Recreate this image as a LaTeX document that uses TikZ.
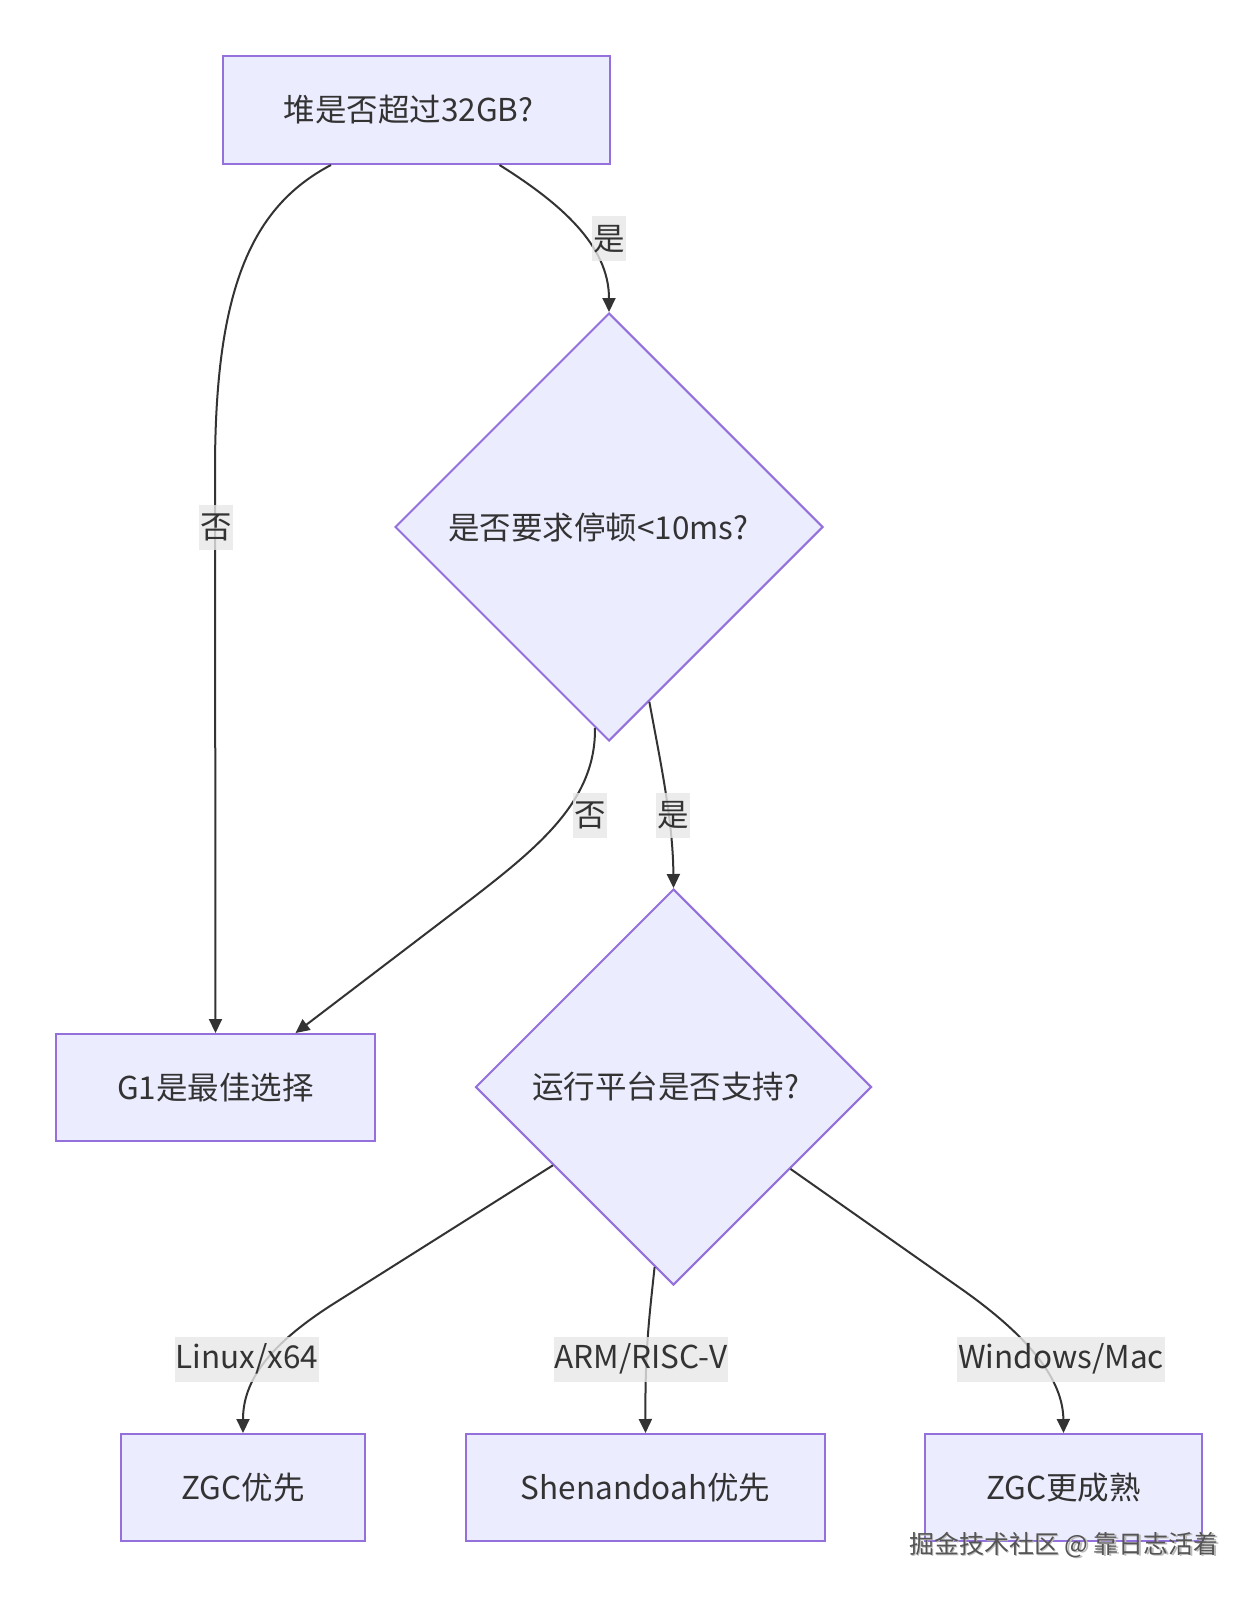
\documentclass[tikz,border=0pt]{standalone}
\usepackage{fontspec}
\setmainfont{Noto Sans CJK SC}
\usetikzlibrary{shapes.geometric,arrows.meta}
\definecolor{nodefill}{HTML}{ECECFF}
\definecolor{nodeline}{HTML}{9370DB}
\definecolor{edgecol}{HTML}{333333}
\definecolor{labelbg}{HTML}{E8E8E8}
\definecolor{txt}{HTML}{333333}
\definecolor{wm}{HTML}{555555}
\definecolor{wmshadow}{HTML}{BBBBBB}
\begin{document}
\begin{tikzpicture}[x=1pt,y=-1pt,
  mainfont/.style={font=\fontsize{31.5}{37}\selectfont},
  box/.style={draw=nodeline, fill=nodefill, line width=2pt, minimum height=107pt, inner sep=0pt, text=txt, mainfont},
  dia/.style={diamond, aspect=1, draw=nodeline, fill=nodefill, line width=2pt, inner sep=0pt, text=txt, mainfont},
  edge/.style={draw=edgecol, line width=2pt, -{Triangle[length=14pt,width=13pt]}},
  elabel/.style={fill=labelbg, fill opacity=0.8, text opacity=1, inner xsep=1pt, inner ysep=0pt, minimum height=45pt, text=txt, mainfont},
  wmstyle/.style={font=\fontsize{25}{30}\selectfont, inner sep=0pt}
]
\useasboundingbox[fill=white] (0,0) rectangle (1257,1597);

% nodes
\node[box, minimum width=387pt, minimum height=108pt] (top) at (416.5,110) {堆是否超过32GB?\kern16pt};
\node[dia, minimum width=428pt, minimum height=428pt] (d1) at (609,527) {是否要求停顿<10ms?\kern22pt};
\node[dia, minimum width=396pt, minimum height=396pt] (d2) at (673.5,1087) {运行平台是否支持?\kern16pt};
\node[box, minimum width=319pt] (g1) at (215.5,1087.5) {G1是最佳选择};
\node[box, minimum width=244pt] (zgc1) at (243,1487.5) {ZGC优先};
\node[box, minimum width=359pt] (shen) at (645.5,1487.5) {Shenandoah优先};
\node[box, minimum width=277pt] (zgc2) at (1063.5,1487.5) {ZGC更成熟};

% edges
\draw[edge] ([xshift=83pt]top.south) .. controls (560,203) and (609,245) .. (d1.north);
\draw[edge] ([xshift=-85.5pt]top.south) .. controls (251,207) and (215,290) .. (215,470) -- (g1.north);
\draw[edge] (d1.266) .. controls (596,800) and (540,846) .. (470,900) -- ([xshift=80pt]g1.north);
\draw[edge] (d1.283) .. controls (660,760) and (673,820) .. (d2.north);
\draw[edge] (d2.213) -- (330,1306) .. controls (270,1345) and (243,1380) .. (zgc1.north);
\draw[edge] (d2.264) .. controls (649,1320) and (645,1350) .. (shen.north);
\draw[edge] (d2.325) -- (960,1288) .. controls (1030,1337) and (1063,1380) .. (zgc2.north);

% edge labels
\node[elabel] (l1) at (609,239) {是};
\node[elabel] (l2) at (216,527) {否};
\node[elabel] (l3) at (590,815) {否};
\node[elabel] (l4) at (673,815) {是};
\node[elabel] (l5) at (247,1359) {Linux/x64};
\node[elabel] (l6) at (641,1359) {ARM/RISC-V};
\node[elabel] (l7) at (1061,1359) {Windows/Mac};

% watermark
\node[wmstyle, text=wmshadow] (wms) at (1065.5,1546.5) {掘金技术社区 @ 靠日志活着};
\node[wmstyle, text=wm] (wmk) at (1064,1545) {掘金技术社区 @ 靠日志活着};
\end{tikzpicture}
\end{document}
